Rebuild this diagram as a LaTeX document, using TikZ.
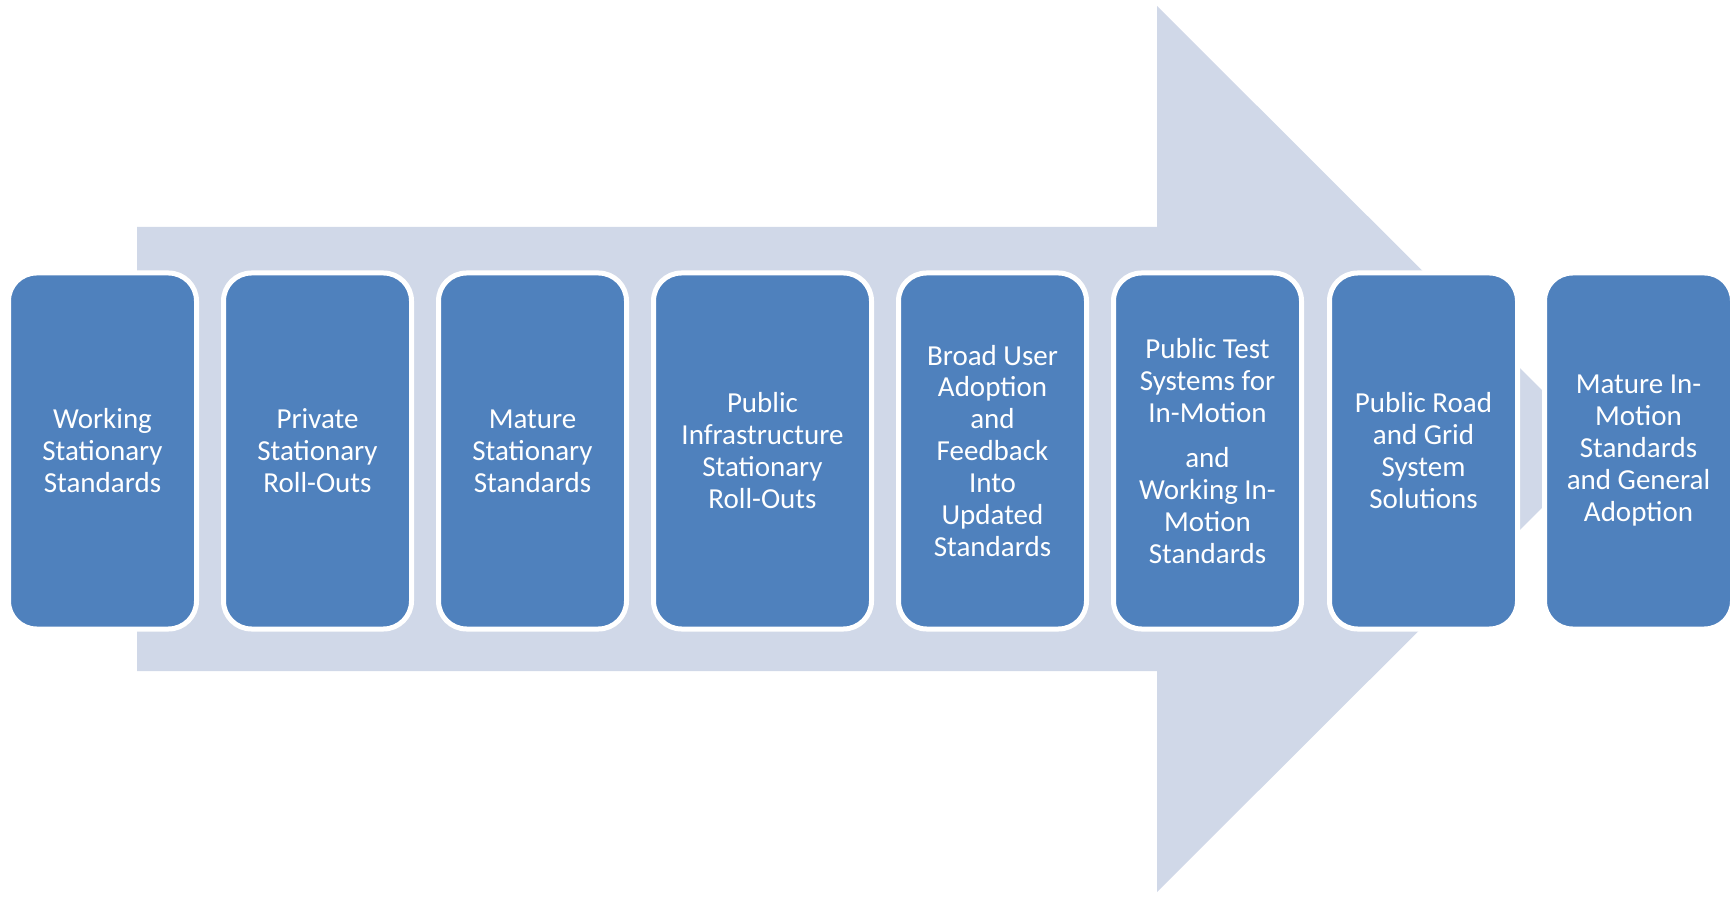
\documentclass[tikz,border=0pt]{standalone}
\usepackage{fontspec}
\setmainfont{Carlito}
\usetikzlibrary{positioning}
\definecolor{stageblue}{RGB}{79,129,189}
\definecolor{arrowgrey}{RGB}{208,216,232}

\begin{document}
\begin{tikzpicture}[
    stage/.style={draw=white,line width=0.1cm,fill=stageblue,rounded corners=0.56cm,
        minimum width=3.76cm,minimum height=7.12cm,outer sep=0pt,align=center,
        text=white,font=\fontsize{16.5}{18.2}\selectfont},
    wide/.style={minimum width=4.36cm}
]
    \useasboundingbox (0,0) rectangle (34.7,17.92);

    % Big arrow
    \fill[arrowgrey] (2.74,13.38) -- (23.14,13.38) -- (23.14,17.80) -- (32.02,8.94)
        -- (23.14,0.08) -- (23.14,4.50) -- (2.74,4.50) -- cycle;

    % Stages
    \node[stage] (s1) at (2.05,8.9) {Working\\Stationary\\Standards};
    \node[stage,right=0.54cm of s1] (s2) {Private\\Stationary\\Roll-Outs};
    \node[stage,right=0.54cm of s2] (s3) {Mature\\Stationary\\Standards};
    \node[stage,wide,right=0.54cm of s3] (s4) {Public\\Infrastructure\\Stationary\\Roll-Outs};
    \node[stage,right=0.54cm of s4] (s5) {Broad User\\Adoption\\and\\Feedback\\Into\\Updated\\Standards};
    \node[stage,right=0.54cm of s5] (s6) {Public Test\\Systems for\\In-Motion\\[7pt]and\\Working In-\\Motion\\Standards};
    \node[stage,right=0.56cm of s6] (s7) {Public Road\\and Grid\\System\\Solutions};
    \node[stage,right=0.54cm of s7] (s8) {Mature In-\\Motion\\Standards\\and General\\Adoption};
\end{tikzpicture}
\end{document}
